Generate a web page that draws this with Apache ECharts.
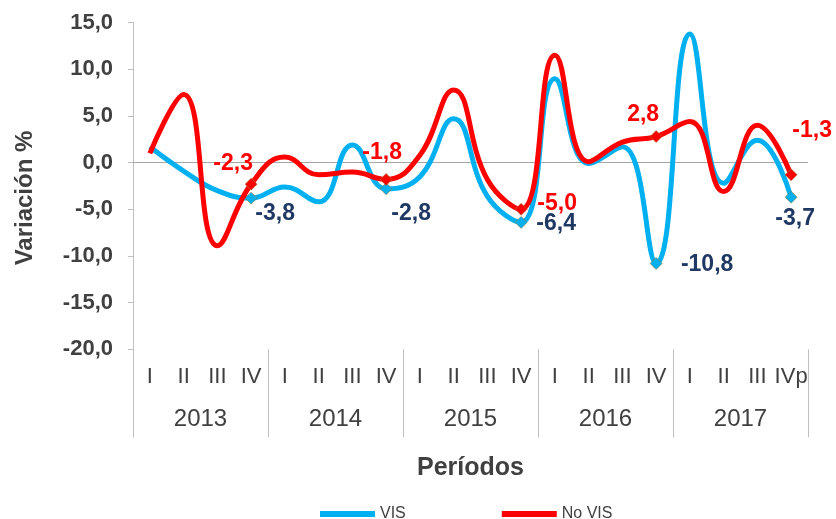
<!DOCTYPE html>
<html>
<head>
<meta charset="utf-8">
<script src="https://cdn.jsdelivr.net/npm/echarts@6/dist/echarts.min.js"></script>
<style>
html,body{margin:0;padding:0;background:#fff;}
#chart{width:836px;height:519px;}
</style>
</head>
<body>
<div id="chart"></div>
<script>
const quarters = ['I','II','III','IV','I','II','III','IV','I','II','III','IV','I','II','III','IV','I','II','III','IVp'];
const years = ['2013','2014','2015','2016','2017'];
const visValues = [1.7, -0.9, -3.0, -3.8, -2.6, -4.2, 1.9, -2.8, -1.5, 4.7, -3.6, -6.4, 9.0, -0.1, 1.7, -10.8, 13.8, -2.2, 2.4, -3.7];
const noVisValues = [1.0, 7.3, -8.9, -2.3, 0.6, -1.3, -1.0, -1.8, 0.8, 7.8, -1.8, -5.0, 11.5, 0.1, 2.2, 2.8, 4.4, -3.1, 4.0, -1.3];
const labelIdx = [3, 7, 11, 15, 19];
const visOffsets = [[24,16],[25,25],[35,1],[51,1],[4,21]];
const noVisOffsets = [[-18,-20],[-4,-27],[36,-6],[-13,-22],[21,-44]];

const fmt = v => v.toFixed(1).replace('.', ',');
const FONT = 'Liberation Sans, Arial, sans-serif';
const NARROW = '"Liberation Sans Narrow", "Arial Narrow", "Liberation Sans", sans-serif';

function buildData(vals, color, labelColor, offsets) {
  return vals.map((v, i) => {
    const k = labelIdx.indexOf(i);
    if (k < 0) return { value: v, symbol: 'none' };
    return {
      value: v,
      symbol: 'diamond',
      symbolSize: 12,
      itemStyle: { color: color, borderColor: '#9c7a3c', borderWidth: 0.6 },
      label: {
        show: true, position: 'inside', offset: offsets[k],
        formatter: p => fmt(p.value),
        color: labelColor, fontWeight: 'bold', fontSize: 23, fontFamily: FONT
      }
    };
  });
}

const chart = echarts.init(document.getElementById('chart'));
chart.setOption({
  animation: false,
  backgroundColor: '#fff',
  grid: { left: 133, right: 28, top: 22.7, bottom: 169.7, containLabel: false },
  legend: {
    left: 315, top: 501,
    itemWidth: 55, itemHeight: 6, itemGap: 96, icon: 'rect',
    textStyle: { fontSize: 16, color: '#404040', fontFamily: NARROW },
    data: ['VIS', 'No VIS']
  },
  xAxis: [
    {
      type: 'category', data: quarters, position: 'bottom',
      axisLine: { show: false }, axisTick: { show: false },
      axisLabel: { interval: 0, margin: 17, fontSize: 22, color: '#404040', fontFamily: FONT }
    },
    {
      type: 'category', data: years, position: 'bottom',
      axisLine: { show: false },
      axisTick: { show: true, length: 88, interval: 0, lineStyle: { color: '#BFBFBF', width: 1 } },
      axisLabel: { interval: 0, margin: 58, fontSize: 24, color: '#404040', fontFamily: FONT },
      name: 'Períodos', nameLocation: 'middle', nameGap: 106,
      nameTextStyle: { fontSize: 25, fontWeight: 'bold', color: '#404040', fontFamily: FONT }
    }
  ],
  yAxis: {
    type: 'value', min: -20, max: 15, interval: 5,
    axisLine: { show: true, lineStyle: { color: '#BFBFBF' } },
    axisTick: { show: true, length: 5, lineStyle: { color: '#BFBFBF' } },
    splitLine: { show: false },
    axisLabel: { formatter: v => fmt(v), margin: 20, fontSize: 22, fontWeight: 'bold', color: '#404040', fontFamily: FONT }
  },
  graphic: [{
    type: 'text', x: 25, y: 198, rotation: Math.PI / 2,
    style: { text: 'Variación %', fontSize: 24, fontWeight: 'bold', fill: '#404040', fontFamily: FONT, align: 'center', verticalAlign: 'middle' }
  }],
  series: [
    {
      name: 'VIS', type: 'line', smooth: 0.45, xAxisIndex: 0,
      data: buildData(visValues, '#00B0F0', '#1F3864', visOffsets),
      lineStyle: { color: '#00B0F0', width: 5 },
      itemStyle: { color: '#00B0F0' },
      showSymbol: true, z: 2,
      markLine: {
        silent: true, symbol: 'none', label: { show: false },
        lineStyle: { color: '#A6A6A6', width: 1, type: 'solid' },
        data: [{ yAxis: 0 }], z: 1
      }
    },
    {
      name: 'No VIS', type: 'line', smooth: 0.45, xAxisIndex: 0,
      data: buildData(noVisValues, '#FF0000', '#FF0000', noVisOffsets),
      lineStyle: { color: '#FF0000', width: 5 },
      itemStyle: { color: '#FF0000' },
      showSymbol: true, z: 3
    }
  ]
});
</script>
</body>
</html>
